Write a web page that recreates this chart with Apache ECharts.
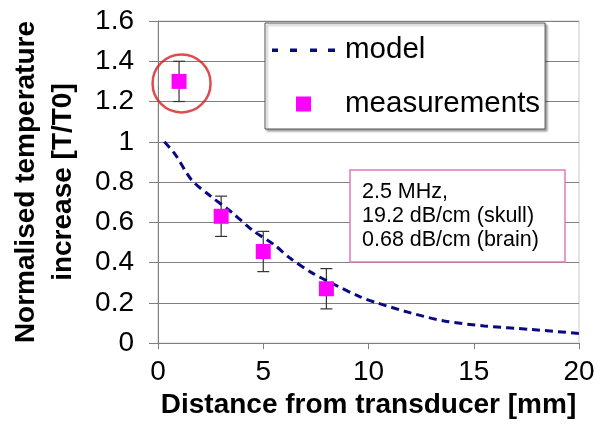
<!DOCTYPE html>
<html>
<head>
    <meta charset="utf-8">
    <title>ECharts</title>
    <script src="https://cdn.jsdelivr.net/npm/echarts@6/dist/echarts.min.js"></script>
</head>
<body style="margin:0;background:#fff;">
<div id="main" style="width: 606px;height:424px;"></div>
<script type="text/javascript">
    // model curve
    var modelX = [0.3, 0.8, 1.6, 2.5, 3.5, 4.5, 5.5, 6.3, 7.3, 8.2, 9.6, 10.4, 12.0, 13.6, 15.5, 17.7, 20.0, 20.4];
    var modelY = [1.0, 0.94, 0.81, 0.73, 0.65, 0.56, 0.49, 0.42, 0.35, 0.30, 0.23, 0.20, 0.15, 0.11, 0.085, 0.068, 0.048, 0.044];

    // measurements with error bars
    var measX = [1, 3, 5, 8];
    var measY = [1.30, 0.63, 0.455, 0.27];
    var measLow = [1.20, 0.53, 0.355, 0.17];
    var measHigh = [1.40, 0.73, 0.555, 0.37];

    // red circle around the first point
    var circleAt = [1.12, 1.29];

    var infoLines = ['2.5 MHz,', '19.2 dB/cm (skull)', '0.68 dB/cm (brain)'];

    var font = '"Liberation Sans", Arial, sans-serif';
    var gridGray = '#7f7f7f';

    // legend icons: 4 short dashes for the model, a square for measurements
    var dashIcon = 'path://M0,0 M65,15 M2,6 L8,6 L8,9.5 L2,9.5 Z M20,6 L27,6 L27,9.5 L20,9.5 Z M40,6 L47,6 L47,9.5 L40,9.5 Z M58,6 L65,6 L65,9.5 L58,9.5 Z';
    var squareIcon = 'path://M0,0 M65,15 M26,0 L41,0 L41,15 L26,15 Z';

    var modelData = modelX.map(function (x, i) { return [x, modelY[i]]; });
    var measData = measX.map(function (x, i) { return [x, measY[i]]; });
    var errData = measX.map(function (x, i) { return [x, measLow[i], measHigh[i]]; });

    var myChart = echarts.init(document.getElementById('main'));

    option = {
        animation: false,
        backgroundColor: '#fff',
        textStyle: { fontFamily: font },
        title: {
            text: infoLines.join('\n'),
            left: 350,
            top: 170,
            padding: [10, 26, 10, 12],
            borderColor: '#e47ab8',
            borderWidth: 1.5,
            backgroundColor: '#fff',
            textStyle: {
                fontFamily: font,
                fontSize: 21.5,
                fontWeight: 'normal',
                lineHeight: 24,
                color: '#000'
            }
        },
        legend: {
            orient: 'vertical',
            left: 265,
            top: 23,
            padding: [12, 5, 10, 5],
            itemGap: 24,
            itemWidth: 65,
            itemHeight: 15,
            backgroundColor: '#fff',
            borderColor: '#555',
            borderWidth: 1,
            shadowColor: 'rgba(0,0,0,0.35)',
            shadowBlur: 2,
            shadowOffsetX: 2,
            shadowOffsetY: 2,
            data: [
                { name: 'model', icon: dashIcon },
                { name: 'measurements', icon: squareIcon }
            ],
            textStyle: {
                fontFamily: font,
                fontSize: 29.5,
                color: '#000',
                padding: [0, 0, 0, 5]
            }
        },
        grid: {
            left: 157,
            right: 27,
            top: 21,
            bottom: 75,
            show: true,
            borderColor: '#c8c8c8',
            borderWidth: 1
        },
        xAxis: {
            type: 'value',
            min: 0,
            max: 20,
            interval: 5,
            name: 'Distance from transducer [mm]',
            nameLocation: 'middle',
            nameGap: 45,
            nameTextStyle: { fontFamily: font, fontSize: 28, fontWeight: 'bold', color: '#000' },
            axisLine: { show: true, lineStyle: { color: gridGray, width: 1 } },
            axisTick: { show: true, inside: false, length: 6, lineStyle: { color: gridGray } },
            axisLabel: { fontFamily: font, fontSize: 28, color: '#000', margin: 15 },
            splitLine: { show: false }
        },
        yAxis: {
            type: 'value',
            min: 0,
            max: 1.6,
            interval: 0.2,
            name: 'Normalised temperature\nincrease [T/T0]',
            nameLocation: 'middle',
            nameRotate: 90,
            nameGap: 76,
            nameTextStyle: { fontFamily: font, fontSize: 28, fontWeight: 'bold', color: '#000', lineHeight: 37 },
            axisLine: { show: true, lineStyle: { color: gridGray, width: 1 } },
            axisTick: { show: true, inside: false, length: 9, lineStyle: { color: gridGray } },
            axisLabel: { fontFamily: font, fontSize: 28, color: '#000', margin: 24 },
            splitLine: { show: true, lineStyle: { color: gridGray, width: 1 } }
        },
        series: [
            {
                name: 'model',
                type: 'line',
                data: modelData,
                smooth: 0.3,
                symbol: 'none',
                clip: false,
                z: 3,
                lineStyle: { color: '#0a0a80', width: 3, type: [8, 5] },
                itemStyle: { color: '#0a0a80' }
            },
            {
                name: 'errorbars',
                type: 'custom',
                data: errData,
                z: 2,
                renderItem: function (params, api) {
                    var x = api.value(0);
                    var lo = api.coord([x, api.value(1)]);
                    var hi = api.coord([x, api.value(2)]);
                    var w = 6;
                    var st = { stroke: '#333', lineWidth: 1.2 };
                    return {
                        type: 'group',
                        children: [
                            { type: 'line', shape: { x1: lo[0], y1: lo[1], x2: hi[0], y2: hi[1] }, style: st },
                            { type: 'line', shape: { x1: lo[0] - w, y1: lo[1], x2: lo[0] + w, y2: lo[1] }, style: st },
                            { type: 'line', shape: { x1: hi[0] - w, y1: hi[1], x2: hi[0] + w, y2: hi[1] }, style: st }
                        ]
                    };
                }
            },
            {
                name: 'measurements',
                type: 'scatter',
                data: measData,
                symbol: 'rect',
                symbolSize: 15,
                z: 4,
                itemStyle: { color: '#ff00ff', opacity: 1 }
            },
            {
                name: 'circle',
                type: 'scatter',
                data: [circleAt],
                symbol: 'circle',
                symbolSize: 58,
                silent: true,
                z: 5,
                itemStyle: { color: 'rgba(0,0,0,0)', borderColor: '#d42020', borderWidth: 2.5 }
            }
        ]
    };

    myChart.setOption(option);
</script>
</body>
</html>
